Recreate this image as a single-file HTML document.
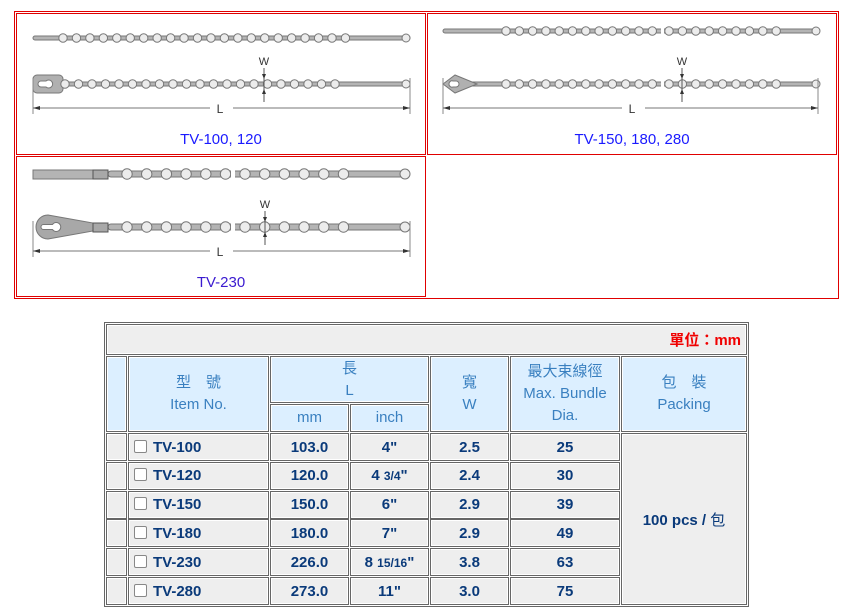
<!DOCTYPE html>
<html><head><meta charset="utf-8">
<style>
body{margin:0;width:847px;height:616px;background:#fff;position:relative;overflow:hidden;font-family:"Liberation Sans","Noto Sans CJK TC",sans-serif;}
.abs{position:absolute;box-sizing:border-box;}
.cap{position:absolute;color:#1a1aff;font-size:15px;text-align:center;}
.c{position:absolute;box-sizing:border-box;border:1px solid #666;box-shadow:inset 0 0 0 1px #fff;display:flex;align-items:center;justify-content:center;text-align:center;}
.h{background:#dcefff;color:#3a80c0;font-size:15px;line-height:22px;}
.d{background:#eeeeee;color:#0a3a7a;font-size:15px;font-weight:bold;}
.cb{display:inline-block;width:11px;height:11px;border:1px solid #888;border-radius:2px;background:#fff;margin-right:6px;vertical-align:-1px;}
small{font-size:12px;}
</style></head><body>
<div class="abs" style="left:14px;top:11px;width:825px;height:288px;border:1px solid #e00000;"></div>
<div class="abs" style="left:16px;top:13px;width:410px;height:142px;border:1px solid #e00000;"></div>
<div class="abs" style="left:427px;top:13px;width:410px;height:142px;border:1px solid #e00000;"></div>
<div class="abs" style="left:16px;top:156px;width:410px;height:141px;border:1px solid #e00000;"></div>
<svg id="sv" class="abs" style="left:0;top:0" width="847" height="300"></svg>
<div class="cap" style="left:121px;width:200px;top:131px;">TV-100, 120</div>
<div class="cap" style="left:532px;width:200px;top:131px;">TV-150, 180, 280</div>
<div class="cap" style="left:121px;width:200px;top:274px;color:#3a1ad0">TV-230</div>

<div class="abs" style="left:104px;top:322px;width:645px;height:285px;border:1px solid #666;"></div>
<div class="c" style="left:106px;top:324px;width:641px;height:31px;background:#eee;justify-content:flex-end;padding-right:5px;color:#f00000;font-weight:bold;font-size:15px;">單位：mm</div>
<div class="c h" style="left:106px;top:356px;width:21px;height:76px;"></div>
<div class="c h" style="left:128px;top:356px;width:141px;height:76px;"><span>型　號<br>Item No.</span></div>
<div class="c h" style="left:270px;top:356px;width:159px;height:47px;"><span>長<br>L</span></div>
<div class="c h" style="left:270px;top:404px;width:79px;height:28px;">mm</div>
<div class="c h" style="left:350px;top:404px;width:79px;height:28px;">inch</div>
<div class="c h" style="left:430px;top:356px;width:79px;height:76px;"><span>寬<br>W</span></div>
<div class="c h" style="left:510px;top:356px;width:110px;height:76px;"><span>最大束線徑<br>Max. Bundle<br>Dia.</span></div>
<div class="c h" style="left:621px;top:356px;width:126px;height:76px;"><span>包　裝<br>Packing</span></div>
<div class="c d" style="left:621px;top:433px;width:126px;height:172px;font-size:15px;"><span>100 pcs / <span style="font-weight:normal">包</span></span></div>
<div id="rows"></div>
<script>
var rows=[["TV-100","103.0",'4"',"2.5","25"],["TV-120","120.0",'4 <small>3/4</small>"',"2.4","30"],["TV-150","150.0",'6"',"2.9","39"],["TV-180","180.0",'7"',"2.9","49"],["TV-230","226.0",'8 <small>15/16</small>"',"3.8","63"],["TV-280","273.0",'11"',"3.0","75"]];
var cols=[[106,21],[128,141],[270,79],[350,79],[430,79],[510,110]];
var h='';
rows.forEach(function(r,i){var y=433+i*28.8;
 var v=["",'<span style="flex:1;text-align:left;padding-left:5px"><span class="cb"></span>'+r[0]+'</span>','<span>'+r[1]+'</span>','<span>'+r[2]+'</span>','<span>'+r[3]+'</span>','<span>'+r[4]+'</span>'];
 cols.forEach(function(c,j){h+='<div class="c d" style="left:'+c[0]+'px;top:'+y+'px;width:'+c[1]+'px;height:28px;">'+v[j]+'</div>';});
});
document.getElementById('rows').innerHTML=h;
var s='';
function bar(x1,x2,y,hh){s+='<rect x="'+x1+'" y="'+(y-hh/2)+'" width="'+(x2-x1)+'" height="'+hh+'" rx="'+hh/2+'" fill="#b4b4b4" stroke="#777" stroke-width="1"/>';}
function bead(x,y,r){s+='<circle cx="'+x+'" cy="'+y+'" r="'+r+'" fill="#ececec" stroke="#777" stroke-width="1"/>';}
function beads(x1,n,dx,y,r){for(var i=0;i<n;i++)bead(x1+i*dx,y,r);}
function dim(x1,x2,y,lx,wx,wy){
 s+='<line x1="'+x1+'" y1="'+(y-30)+'" x2="'+x1+'" y2="'+(y+6)+'" stroke="#888"/><line x1="'+x2+'" y1="'+(y-30)+'" x2="'+x2+'" y2="'+(y+6)+'" stroke="#888"/>';
 s+='<line x1="'+x1+'" y1="'+y+'" x2="'+(lx-10)+'" y2="'+y+'" stroke="#777"/><line x1="'+(lx+13)+'" y1="'+y+'" x2="'+x2+'" y2="'+y+'" stroke="#777"/>';
 s+='<path d="M'+x1+' '+y+'l7 -2v4z M'+x2+' '+y+'l-7 -2v4z" fill="#333"/>';
 s+='<text x="'+lx+'" y="'+(y+5)+'" font-size="12" font-family="Liberation Sans" fill="#333" text-anchor="middle">L</text>';
 s+='<text x="'+wx+'" y="'+(wy-19)+'" font-size="11" font-family="Liberation Sans" fill="#333" text-anchor="middle">W</text>';
 s+='<line x1="'+wx+'" y1="'+(wy-16)+'" x2="'+wx+'" y2="'+(wy+18)+'" stroke="#555"/>';
 s+='<path d="M'+wx+' '+(wy-5)+'l-2 -5h4z M'+wx+' '+(wy+5)+'l-2 5h4z" fill="#333"/>';
}
// diagram 1
bar(33,410,38,4);beads(63,22,13.45,38,4.2);bead(406,38,4);
bar(33,410,84,4);
s+='<rect x="33" y="75" width="30" height="18" rx="4" fill="#b0b0b0" stroke="#777"/><path d="M38 84a3 3 0 0 1 3-3h5a4 4 0 1 1 0 6h-5a3 3 0 0 1-3-3z" fill="#fff" stroke="#777"/>';
beads(65,21,13.5,84,4.2);bead(406,84,4);
dim(33,410,108,220,264,84);
// diagram 2
bar(443,818,31,4);beads(506,12,13.3,31,4.2);beads(669,9,13.4,31,4.2);bead(816,31,4);
bar(470,818,84,4);
s+='<path d="M443 84l12-9l22 9l-22 9z" fill="#b0b0b0" stroke="#777"/><path d="M449 84a3 3 0 0 1 4-3l3 0a3 3 0 1 1 0 6l-3 0a3 3 0 0 1-4-3z" fill="#fff" stroke="#777"/>';
beads(506,12,13.3,84,4.2);beads(669,9,13.4,84,4.2);bead(816,84,4);
s+='<rect x="661" y="24" width="3" height="66" fill="#fff"/>';
dim(443,818,108,632,682,84);
// diagram 3
bar(108,405,174,6);s+='<rect x="33" y="170" width="75" height="9" fill="#b4b4b4" stroke="#777"/><rect x="93" y="170" width="15" height="9" fill="#a8a8a8" stroke="#555"/>';
beads(127,6,19.7,174,5.2);beads(245,6,19.7,174,5.2);bead(405,174,5);
bar(108,405,227,6);
s+='<path d="M48 215 L93 223 L93 231 L48 239 A12 12 0 0 1 48 215z" fill="#a8a8a8" stroke="#777"/><rect x="93" y="223" width="15" height="9" fill="#a8a8a8" stroke="#555"/><path d="M41 227a2.5 2.5 0 0 1 2.5-2.5h9a4.5 4.5 0 1 1 0 5h-9a2.5 2.5 0 0 1-2.5-2.5z" fill="#fff" stroke="#777"/>';
beads(127,6,19.7,227,5.2);beads(245,6,19.7,227,5.2);bead(405,227,5);
s+='<rect x="231" y="165" width="4" height="70" fill="#fff"/>';
dim(33,410,251,220,265,227);
document.getElementById('sv').innerHTML=s;
</script>
</body></html>
